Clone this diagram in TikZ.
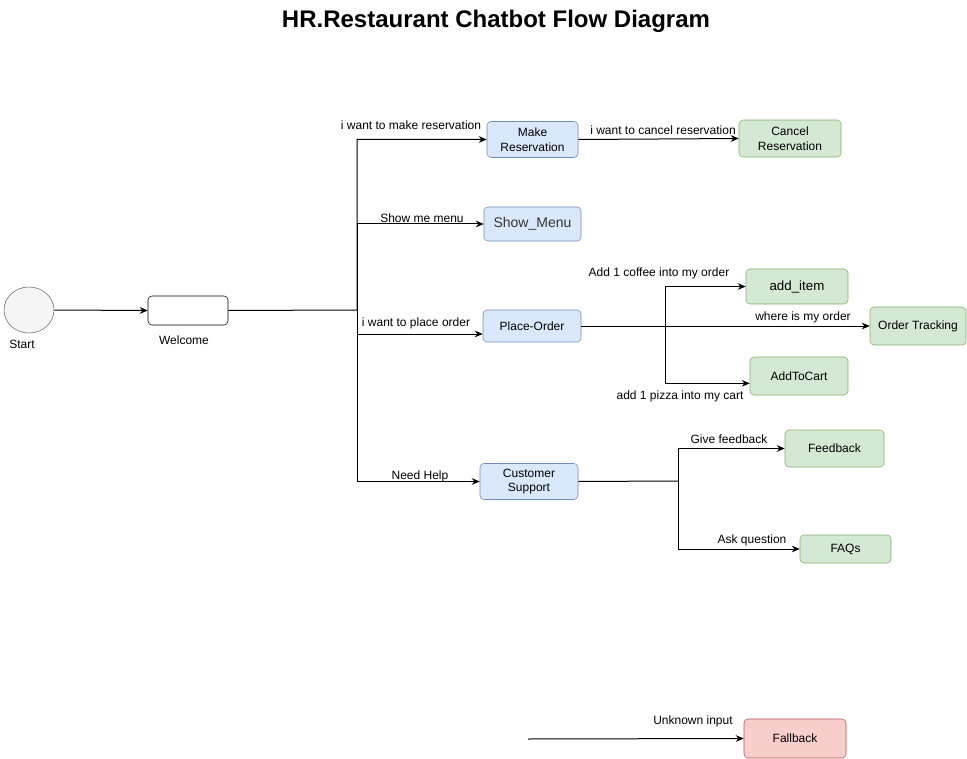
\documentclass[tikz,border=0pt]{standalone}
\usepackage{fontspec}
\setmainfont{Liberation Sans}
\usetikzlibrary{arrows.meta,shapes.geometric}
\definecolor{bluefill}{HTML}{DAE8FC}
\definecolor{bluedraw}{HTML}{6C8EBF}
\definecolor{greenfill}{HTML}{D5E8D4}
\definecolor{greendraw}{HTML}{82B366}
\definecolor{redfill}{HTML}{F8CECC}
\definecolor{reddraw}{HTML}{B85450}
\definecolor{greyfill}{HTML}{F5F5F5}
\definecolor{greydraw}{HTML}{666666}
\definecolor{menutext}{HTML}{333333}
\begin{document}
\begin{tikzpicture}[x=0.75pt,y=-0.75pt,
  box/.style={rectangle,rounded corners=3pt,align=center,font=\fontsize{9pt}{11pt}\selectfont,inner sep=1pt},
  bluebox/.style={box,fill=bluefill,draw=bluedraw},
  greenbox/.style={box,fill=greenfill,draw=greendraw},
  redbox/.style={box,fill=redfill,draw=reddraw},
  lbl/.style={font=\fontsize{9pt}{10.5pt}\selectfont,inner sep=0pt},
  conn/.style={draw=black,line width=0.75pt,-{Stealth[length=6pt,width=5pt,inset=2pt]}},
  plain/.style={draw=black,line width=0.75pt}]
\useasboundingbox (0,0) rectangle (967,759);
\fill[white] (0,0) rectangle (967,759);

\node[font=\bfseries\fontsize{18pt}{21pt}\selectfont] (title) at (496,21) {HR.Restaurant Chatbot Flow Diagram};

% nodes
\node[ellipse,fill=greyfill,draw=greydraw,minimum width=37.5pt,minimum height=34.5pt] (start) at (29,310) {};
\node[lbl] (startl) at (22,344) {Start};
\node[box,fill=white,draw=black,minimum width=60pt,minimum height=21.75pt] (wel) at (188,310.5) {};
\node[lbl] (well) at (184,340) {Welcome};

\node[bluebox,minimum width=68.25pt,minimum height=27pt] (mr) at (532.5,139.5) {Make\\Reservation};
\node[greenbox,minimum width=76.5pt,minimum height=27.75pt] (cr) at (790,138.5) {Cancel\\Reservation};
\node[bluebox,minimum width=72.75pt,minimum height=25.5pt,text=menutext,font=\fontsize{10.5pt}{12pt}\selectfont] (sm) at (532.5,224) {Show\_Menu};
\node[bluebox,minimum width=73.5pt,minimum height=24pt] (po) at (532,326) {Place-Order};
\node[greenbox,minimum width=76.5pt,minimum height=26.25pt,font=\fontsize{10pt}{12pt}\selectfont] (ai) at (797,286.5) {add\_item};
\node[greenbox,minimum width=72pt,minimum height=28.5pt] (ot) at (918,326) {Order Tracking};
\node[greenbox,minimum width=73.5pt,minimum height=28.5pt] (ac) at (799,376) {AddToCart};
\node[bluebox,minimum width=73.5pt,minimum height=27pt] (cs) at (529,481.5) {Customer\\Support};
\node[greenbox,minimum width=74.25pt,minimum height=27.75pt] (fb) at (834.5,448.5) {Feedback};
\node[greenbox,minimum width=68.25pt,minimum height=21pt] (faq) at (845.5,549) {FAQs};
\node[redbox,minimum width=76.5pt,minimum height=29.25pt] (fall) at (795,738.5) {Fallback};

% coordinates
\coordinate (tr) at (357,310);
\coordinate (pj) at (665,326);
\coordinate (cj) at (678,481);
\coordinate (fbs) at (528,739);

% connectors
\draw[conn] (start.east) -- (wel.west);
\draw[conn] (wel.east) -- (tr) |- (mr.west);
\draw[conn] (tr) |- (sm.west);
\draw[conn] (tr) |- ([yshift=-6pt]po.west);
\draw[conn] (tr) |- (cs.west);
\draw[conn] (mr.east) -- (cr.west);
\draw[conn] (po.east) -- (ot.west);
\draw[conn] (pj) |- (ai.west);
\draw[conn] (pj) |- ([yshift=-5.5pt]ac.west);
\draw[plain] (cs.east) -- (cj);
\draw[conn] (cj) |- (fb.west);
\draw[conn] (cj) |- (faq.west);
\draw[conn] (fbs) -- (fall.west);

% labels
\node[lbl] (l1) at (411,125) {i want to make reservation};
\node[lbl] (l2) at (663,130) {i want to cancel reservation};
\node[lbl] (l3) at (422,218) {Show me menu};
\node[lbl] (l4) at (416,323) {i want to place order};
\node[lbl] (l5) at (659,273) {Add 1 coffee into my order};
\node[lbl] (l6) at (803,317) {where is my order};
\node[lbl] (l7) at (680,396) {add 1 pizza into my cart};
\node[lbl] (l8) at (420,476) {Need Help};
\node[lbl] (l9) at (729,439) {Give feedback};
\node[lbl] (l10) at (752,540) {Ask question};
\node[lbl] (l11) at (693,721) {Unknown input};
\end{tikzpicture}
\end{document}
